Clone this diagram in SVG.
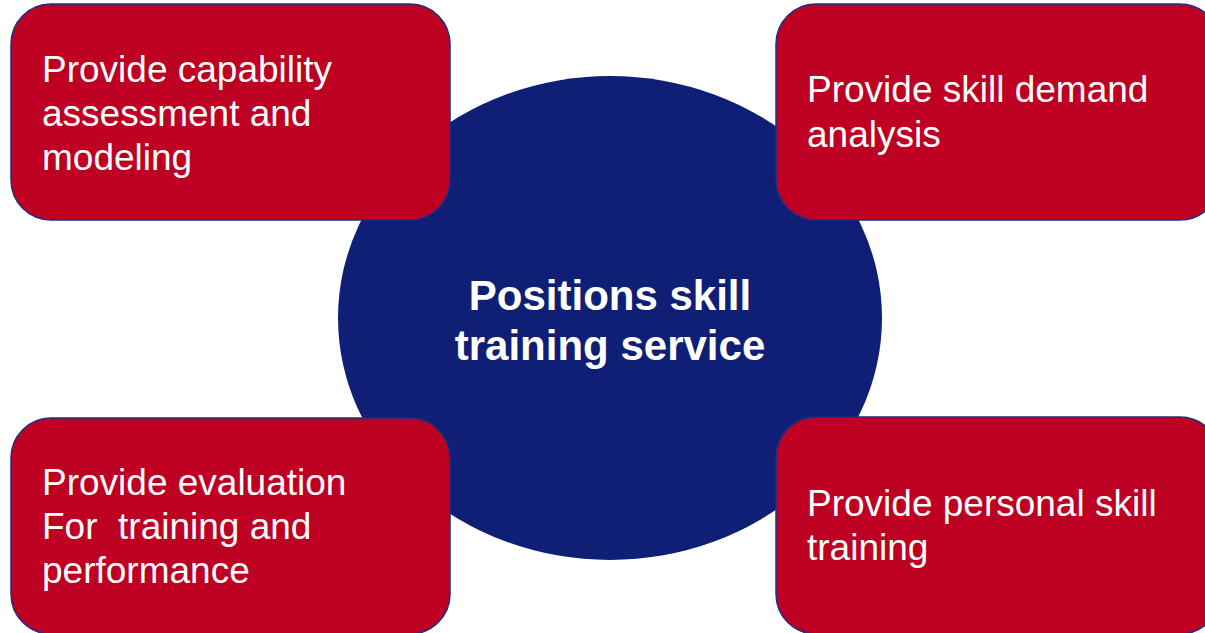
<svg xmlns="http://www.w3.org/2000/svg" width="1205" height="633" viewBox="0 0 1205 633">
<style>
.box{fill:#BE0022;stroke:#1B2F86;stroke-width:1.5}
.lbl{font-family:"Liberation Sans",Arial,sans-serif;font-size:37px;fill:#FFFFFF;white-space:pre}
.ctr{font-family:"Liberation Sans",Arial,sans-serif;font-size:42px;font-weight:bold;fill:#FFFFFF;text-anchor:middle}
</style>
<rect width="1205" height="633" fill="#FFFFFF"/>
<g id="center">
<ellipse cx="610" cy="318" rx="272" ry="242" fill="#0F1F75"/>
<text class="ctr" x="610" y="310">Positions skill</text>
<text class="ctr" x="610" y="360">training service</text>
</g>
<g id="connectors"></g>
<g id="node-top-left">
<rect class="box" x="11" y="4" width="439" height="216" rx="40" ry="40"/>
<text class="lbl" x="42" y="81.7">Provide capability</text>
<text class="lbl" x="42" y="126">assessment and</text>
<text class="lbl" x="42" y="170">modeling</text>
</g>
<g id="node-top-right">
<rect class="box" x="776" y="4" width="444" height="216" rx="40" ry="40"/>
<text class="lbl" x="807" y="101.7">Provide skill demand</text>
<text class="lbl" x="807" y="146.5">analysis</text>
</g>
<g id="node-bottom-left">
<rect class="box" x="11" y="418" width="439" height="216" rx="40" ry="40"/>
<text class="lbl" x="42" y="495">Provide evaluation</text>
<text class="lbl" x="42" y="539">For  training and</text>
<text class="lbl" x="42" y="583">performance</text>
</g>
<g id="node-bottom-right">
<rect class="box" x="776" y="417" width="444" height="217" rx="40" ry="40"/>
<text class="lbl" x="807" y="515.7">Provide personal skill</text>
<text class="lbl" x="807" y="560">training</text>
</g>
</svg>
